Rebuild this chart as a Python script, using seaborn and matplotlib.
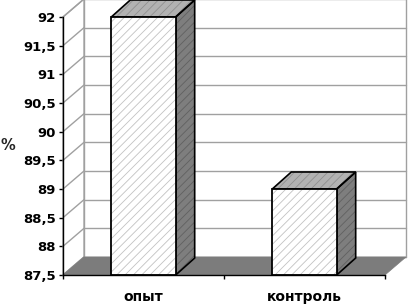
import matplotlib.pyplot as plt
import seaborn as sns
from matplotlib.patches import Polygon, Rectangle
from matplotlib.ticker import FuncFormatter

groups = ["опыт", "контроль"]
percent = [92.0, 89.0]
y_ticks = [87.5, 88, 88.5, 89, 89.5, 90, 90.5, 91, 91.5, 92]

sns.set_theme(style="white")
plt.rcParams["font.family"] = ["DejaVu Sans"]
plt.rcParams["hatch.linewidth"] = 0.6

fig = plt.figure(figsize=(4.08, 3.04), dpi=100)
ax = fig.add_axes([0.1544, 0.0954, 0.7892, 0.8487])
ymin, ymax = y_ticks[0], y_ticks[-1]
ax.set_xlim(-0.5, len(groups) - 0.5)
ax.set_ylim(ymin, ymax)

# depth of the fake 3D box, given in pixels and turned into data units
sx = (len(groups)) / ax.bbox.width
sy = (ymax - ymin) / ax.bbox.height
wdx, wdy = 21 * sx, 18 * sy
bdx, bdy = 19 * sx, 17 * sy
xl, xr = -0.5, len(groups) - 0.5
grid_c = "#a0a0a0"


def face(pts, fc, hc, z, hatch="////", lw=1.2):
    ax.add_patch(Polygon(pts, closed=True, facecolor=fc, edgecolor=hc, hatch=hatch,
                         linewidth=0, zorder=z, clip_on=False))
    ax.add_patch(Polygon(pts, closed=True, fill=False, edgecolor="black",
                         linewidth=lw, zorder=z + 0.1, clip_on=False))


# walls
ax.add_patch(Polygon([(xl + wdx, ymin + wdy), (xr + wdx, ymin + wdy),
                      (xr + wdx, ymax + wdy), (xl + wdx, ymax + wdy)],
                     facecolor="white", edgecolor=grid_c, lw=1, zorder=0.5, clip_on=False))
ax.add_patch(Polygon([(xl, ymin), (xl + wdx, ymin + wdy), (xl + wdx, ymax + wdy), (xl, ymax)],
                     facecolor="white", edgecolor=grid_c, lw=1, zorder=0.5, clip_on=False))
for v in y_ticks:
    ax.plot([xl + wdx, xr + wdx], [v + wdy, v + wdy], color=grid_c, lw=1, zorder=0.6, clip_on=False)
    ax.plot([xl, xl + wdx], [v, v + wdy], color=grid_c, lw=1, zorder=0.6, clip_on=False)

# floor
ax.add_patch(Polygon([(xl, ymin), (xr, ymin), (xr + wdx, ymin + wdy), (xl + wdx, ymin + wdy)],
                     facecolor="#7c7c7c", edgecolor="#7c7c7c", lw=0.5, zorder=1, clip_on=False))

sns.barplot(x=groups, y=percent, width=0.4, color="white", saturation=1,
            edgecolor="#c2c2c2", hatch="////", linewidth=0, ax=ax, zorder=3)

for p in list(ax.patches):
    if not isinstance(p, Rectangle):
        continue
    x0, w, h = p.get_x(), p.get_width(), p.get_height()
    x1 = x0 + w
    ax.add_patch(Rectangle((x0, ymin), w, h - ymin, fill=False, edgecolor="black",
                           linewidth=1.3, zorder=4, clip_on=False))
    face([(x1, ymin), (x1, h), (x1 + bdx, h + bdy), (x1 + bdx, ymin + bdy)], "#7e7e7e", "#606060", 2.5)
    face([(x0, h), (x1, h), (x1 + bdx, h + bdy), (x0 + bdx, h + bdy)], "#b2b2b2", "#909090", 2.5)

ax.set_xlim(xl, xr)
ax.set_ylim(ymin, ymax)
ax.set_yticks(y_ticks)
ax.yaxis.set_major_formatter(FuncFormatter(lambda v, _: f"{v:g}".replace(".", ",")))
ax.tick_params(axis="y", left=True, length=3, width=1, color="black", pad=2,
               labelsize=9.5, labelcolor="black")
for t in ax.get_yticklabels():
    t.set_fontweight("bold")

ax.set_xticks(range(len(groups)))
ax.set_xticklabels(groups, fontsize=10, fontweight="bold", color="black")
ax.set_xticks([xl, 0.5, xr], minor=True)
ax.tick_params(axis="x", which="major", length=0, pad=11)
ax.tick_params(axis="x", which="minor", bottom=True, length=3, width=1, color="black")
ax.set_xlabel("")

ax.set_ylabel("%", rotation=0, fontsize=10.5, fontweight="bold", va="center", ha="center")
ax.yaxis.set_label_coords(-0.172, 0.5)

for s in ["top", "right"]:
    ax.spines[s].set_visible(False)
for s in ["left", "bottom"]:
    ax.spines[s].set_color("black")
    ax.spines[s].set_linewidth(1)
    ax.spines[s].set_zorder(5)

fig.savefig("out.png", dpi=100, facecolor="white")
